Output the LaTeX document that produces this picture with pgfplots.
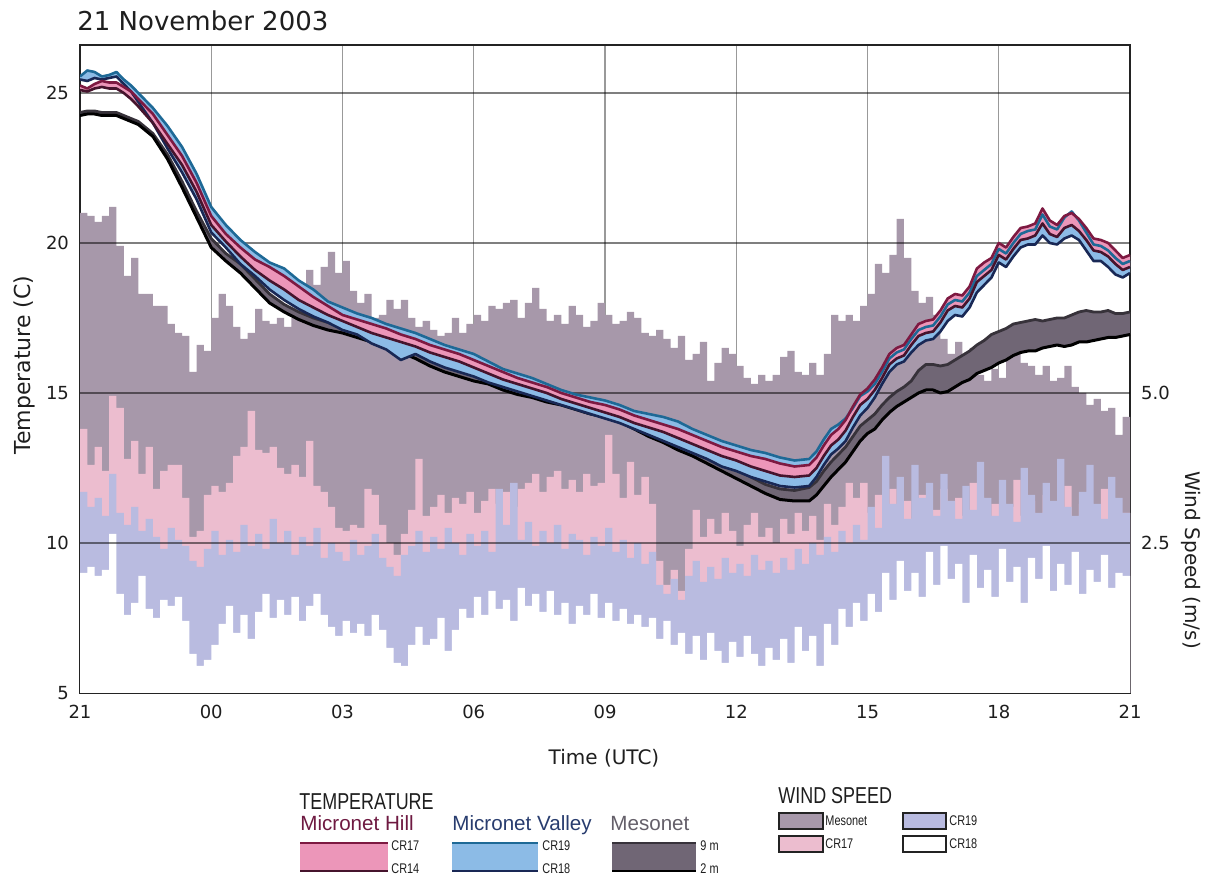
\documentclass[border=0pt]{standalone}
\usepackage{fontspec}
\setmainfont{DejaVu Sans}
\newfontfamily\legfont{Liberation Sans}
\newfontfamily\legcond[FakeStretch=0.78]{Liberation Sans}
\usepackage{pgfplots}
\pgfplotsset{compat=1.18}
\usepgfplotslibrary{fillbetween}
\usepackage{pgfplotstable}
% keep the temperature bands in drawing order, above the wind areas
\tikzset{fill between/on layer=main}

% wind bars
\definecolor{mesbar}{RGB}{167,152,170}
\definecolor{hillbar}{RGB}{236,189,207}
\definecolor{valbar}{RGB}{185,187,224}
% temperature bands
\definecolor{hillfill}{RGB}{236,150,185}
\definecolor{hillline}{RGB}{125,25,65}
\definecolor{hillline2}{RGB}{70,20,45}
\definecolor{valfill}{RGB}{140,187,230}
\definecolor{valline}{RGB}{30,105,150}
\definecolor{valline2}{RGB}{25,40,85}
\definecolor{mesfill}{RGB}{112,102,117}
\definecolor{mesline}{RGB}{55,50,58}
% text
\definecolor{textc}{RGB}{30,30,30}
\definecolor{framec}{RGB}{35,35,35}
\definecolor{hilltext}{RGB}{110,25,65}
\definecolor{valtext}{RGB}{40,60,110}
\definecolor{mestext}{RGB}{100,95,105}

% wind speed (m/s), 10-minute values; t in minutes after 21 UTC
\pgfplotstableread{
t mes c17 c19 c18
0 8.00 4.40 3.35 2.00
10 7.95 3.80 3.10 2.10
20 7.85 4.10 3.25 1.95
30 7.95 3.70 2.95 2.05
40 8.10 4.95 3.65 2.65
50 7.45 4.75 3.00 1.65
60 6.95 3.90 2.80 1.30
70 7.25 4.20 3.10 1.50
80 6.65 3.65 2.70 1.95
90 6.65 4.10 2.90 1.40
100 6.45 3.40 2.60 1.25
110 6.45 3.70 2.40 1.55
120 6.15 3.80 2.75 1.45
130 6.00 3.80 2.55 1.60
140 5.95 3.25 2.45 1.20
150 5.35 2.60 2.20 0.65
160 5.80 2.70 2.10 0.45
170 5.70 3.30 2.40 0.55
180 6.25 3.45 2.70 0.80
190 6.65 3.35 2.30 1.15
200 6.45 3.50 2.55 1.45
210 6.10 3.95 2.35 1.00
220 5.90 4.10 2.80 1.30
230 6.00 4.70 2.45 0.90
240 6.40 4.05 2.65 1.35
250 6.20 4.00 2.40 1.65
260 6.15 4.10 2.90 1.25
270 6.25 3.75 2.50 1.55
280 6.10 3.65 2.70 1.30
290 6.25 3.80 2.30 1.60
300 6.50 3.60 2.60 1.20
310 7.05 4.20 2.45 1.45
320 6.80 3.45 2.75 1.65
330 7.10 3.35 2.25 1.30
340 7.35 3.10 2.50 1.10
350 7.00 2.75 2.35 0.95
360 7.20 2.70 2.20 1.20
370 6.70 2.80 2.55 1.00
380 6.50 2.75 2.30 1.15
390 6.65 3.40 2.45 0.95
400 6.25 3.30 2.65 1.30
410 6.30 2.80 2.25 1.05
420 6.55 2.50 2.10 0.75
430 6.40 2.30 1.95 0.50
440 6.55 2.65 2.30 0.45
450 6.25 3.05 2.45 0.80
460 6.10 3.90 2.70 1.10
470 6.20 2.95 2.35 0.80
480 6.05 3.10 2.60 0.90
490 5.95 3.30 2.40 1.25
500 6.00 3.00 2.75 0.70
510 6.25 3.25 2.50 1.05
520 6.00 3.15 2.30 1.40
530 6.15 3.35 2.65 1.25
540 6.30 3.00 2.45 1.60
550 6.20 3.20 2.70 1.30
560 6.45 3.40 2.35 1.70
570 6.40 3.15 3.40 1.40
580 6.50 3.35 2.80 1.55
590 6.55 3.10 3.50 1.20
600 6.25 3.40 2.55 1.75
610 6.50 3.50 2.85 1.45
620 6.75 3.65 2.45 1.65
630 6.40 3.35 2.70 1.35
640 6.20 3.60 2.50 1.70
650 6.30 3.70 2.80 1.30
660 6.15 3.40 2.40 1.50
670 6.45 3.55 2.65 1.15
680 6.30 3.35 2.55 1.45
690 6.10 3.65 2.30 1.30
700 6.20 3.45 2.60 1.65
710 6.50 3.50 2.45 1.25
720 6.30 4.30 2.75 1.50
730 6.15 3.65 2.35 1.20
740 6.20 3.25 2.55 1.40
750 6.35 3.85 2.25 1.15
760 6.25 3.30 2.50 1.30
770 6.00 3.60 2.15 1.10
780 5.95 3.15 2.35 1.25
790 6.05 2.20 1.80 0.90
800 5.90 1.80 1.65 1.20
810 5.75 2.05 1.90 0.80
820 5.95 1.70 1.55 1.00
830 5.55 2.40 1.95 0.65
840 5.65 3.05 2.20 0.95
850 5.85 2.60 1.85 0.55
860 5.20 2.90 2.10 1.00
870 5.50 2.65 1.90 0.70
880 5.75 3.00 2.25 0.50
890 5.65 2.70 2.00 0.85
900 5.45 2.45 2.15 0.60
910 5.25 2.80 1.95 0.95
920 5.15 3.00 2.30 0.65
930 5.30 2.60 2.05 0.45
940 5.20 2.75 2.20 0.75
950 5.30 2.50 2.00 0.55
960 5.60 2.90 2.25 0.90
970 5.70 2.65 2.05 0.50
980 5.35 3.00 2.40 1.10
990 5.30 2.70 2.15 0.70
1000 5.50 2.95 2.50 0.95
1010 5.30 2.55 2.30 0.45
1020 5.65 3.15 2.60 1.15
1030 6.30 2.80 2.35 0.80
1040 6.20 3.10 2.70 1.40
1050 6.30 3.50 2.50 1.10
1060 6.20 3.25 2.80 1.50
1070 6.45 3.50 2.55 1.20
1080 6.65 3.00 3.10 1.65
1090 7.15 3.30 2.75 1.35
1100 7.00 3.10 3.95 2.00
1110 7.30 3.40 3.15 1.55
1120 7.90 3.00 3.60 2.20
1130 7.25 3.20 2.90 1.70
1140 6.70 2.90 3.80 2.00
1150 6.50 3.30 3.25 1.60
1160 6.60 2.75 3.50 2.35
1170 6.30 3.05 2.95 1.80
1180 5.90 3.40 3.65 2.45
1190 5.65 2.85 3.20 1.90
1200 5.85 3.25 2.90 2.15
1210 5.65 2.95 3.45 1.50
1220 5.75 3.50 3.05 2.30
1230 5.30 3.00 3.85 1.75
1240 5.20 2.80 3.25 2.05
1250 5.40 3.15 2.95 1.60
1260 5.25 2.90 3.55 2.40
1270 5.70 3.10 3.15 1.85
1280 5.80 3.55 2.85 2.10
1290 5.50 2.95 3.75 1.50
1300 5.45 3.20 3.30 2.25
1310 5.30 2.85 3.00 1.90
1320 5.45 3.30 3.50 2.45
1330 5.20 3.00 3.20 1.70
1340 5.25 2.75 3.90 2.15
1350 5.45 3.45 3.10 1.80
1360 5.10 2.90 2.95 2.35
1370 5.00 3.15 3.35 1.65
1380 4.80 3.00 3.80 2.05
1390 4.90 2.80 3.15 1.85
1400 4.70 3.40 2.90 2.30
1410 4.75 3.10 3.60 1.75
1420 4.30 2.70 3.25 2.00
1430 4.60 3.00 3.00 1.95
1440 4.60 3.00 3.00 1.95
}\windtab

% temperature (C); t in minutes after 21 UTC
\pgfplotstableread{
t c17 c14 c19 c18 m9 m2
0 25.25 25.10 25.55 25.45 24.35 24.25
10 25.15 25.05 25.75 25.40 24.40 24.30
20 25.30 25.15 25.70 25.50 24.40 24.30
30 25.40 25.20 25.55 25.45 24.35 24.25
40 25.35 25.15 25.60 25.50 24.35 24.25
50 25.35 25.15 25.70 25.55 24.35 24.25
60 25.20 25.00 25.45 25.30 24.25 24.15
70 25.05 24.80 25.25 25.05 24.15 24.05
80 24.80 24.55 25.00 24.70 24.05 23.95
100 24.30 24.00 24.50 24.00 23.65 23.55
120 23.60 23.30 23.90 23.15 22.95 22.80
140 22.90 22.60 23.20 22.35 22.05 21.85
160 22.00 21.70 22.30 21.45 21.05 20.85
180 20.90 20.60 21.20 20.35 20.15 19.85
200 20.30 20.05 20.60 19.85 19.65 19.40
220 19.85 19.55 20.10 19.30 19.30 19.00
240 19.45 19.10 19.70 18.90 18.80 18.50
260 19.20 18.75 19.35 18.45 18.30 18.00
280 18.90 18.45 19.15 18.10 17.95 17.70
300 18.55 18.10 18.75 17.80 17.70 17.45
320 18.20 17.85 18.45 17.55 17.50 17.25
340 17.90 17.60 18.05 17.35 17.35 17.10
360 17.60 17.40 17.85 17.10 17.20 17.00
380 17.45 17.20 17.65 16.95 17.05 16.85
400 17.30 17.00 17.50 16.65 16.90 16.70
420 17.15 16.85 17.30 16.45 16.75 16.50
440 16.95 16.70 17.15 16.10 16.60 16.35
460 16.80 16.55 17.00 16.30 16.40 16.15
480 16.60 16.35 16.80 16.05 16.15 15.90
500 16.45 16.20 16.60 15.85 15.95 15.70
520 16.30 16.05 16.45 15.70 15.80 15.55
540 16.10 15.85 16.30 15.55 15.65 15.40
560 15.90 15.65 16.05 15.35 15.50 15.30
580 15.70 15.45 15.80 15.20 15.35 15.10
600 15.50 15.30 15.65 15.05 15.15 14.95
620 15.35 15.15 15.50 14.90 15.00 14.85
640 15.20 15.00 15.30 14.75 14.90 14.70
660 15.00 14.80 15.10 14.60 14.75 14.60
680 14.85 14.65 14.95 14.45 14.60 14.45
700 14.70 14.50 14.85 14.30 14.45 14.30
720 14.60 14.35 14.75 14.15 14.35 14.20
740 14.45 14.20 14.60 14.00 14.20 14.05
760 14.25 14.00 14.40 13.80 14.00 13.80
780 14.10 13.85 14.30 13.60 13.80 13.55
800 13.95 13.70 14.20 13.40 13.55 13.35
820 13.80 13.50 14.05 13.20 13.35 13.10
840 13.60 13.30 13.80 13.00 13.15 12.90
860 13.40 13.10 13.60 12.80 12.90 12.65
880 13.20 12.90 13.40 12.55 12.70 12.40
900 13.05 12.75 13.25 12.40 12.45 12.15
920 12.90 12.55 13.10 12.20 12.20 11.90
940 12.80 12.40 13.00 12.05 11.95 11.65
960 12.65 12.25 12.85 11.90 11.80 11.45
980 12.55 12.20 12.75 11.85 11.75 11.40
1000 12.60 12.25 12.80 11.90 11.85 11.40
1010 12.85 12.50 13.05 12.20 12.05 11.60
1020 13.25 12.90 13.45 12.60 12.40 11.90
1030 13.60 13.25 13.80 12.95 12.70 12.20
1040 13.80 13.45 13.95 13.15 12.95 12.45
1050 14.10 13.75 14.15 13.40 13.20 12.70
1060 14.55 14.20 14.50 13.85 13.55 13.05
1070 14.95 14.60 14.90 14.25 13.90 13.40
1080 15.15 14.80 15.05 14.50 14.10 13.65
1090 15.45 15.10 15.30 14.85 14.30 13.80
1100 15.85 15.50 15.70 15.30 14.60 14.10
1110 16.30 15.95 16.15 15.70 14.85 14.35
1120 16.50 16.15 16.35 15.95 15.05 14.55
1130 16.60 16.25 16.45 16.05 15.20 14.70
1140 16.95 16.60 16.80 16.35 15.40 14.85
1150 17.30 16.90 17.10 16.60 15.75 15.00
1160 17.40 17.00 17.20 16.75 15.95 15.10
1170 17.45 17.05 17.25 16.80 15.95 15.10
1180 17.75 17.35 17.55 17.05 15.90 15.00
1190 18.15 17.75 17.95 17.40 15.95 15.05
1200 18.30 17.90 18.10 17.60 16.10 15.20
1210 18.25 17.85 18.05 17.55 16.25 15.35
1220 18.55 18.15 18.35 17.85 16.40 15.45
1230 19.15 18.70 18.90 18.35 16.60 15.65
1240 19.35 18.90 19.10 18.60 16.75 15.75
1250 19.50 19.10 19.30 18.85 16.95 15.85
1260 20.00 19.60 19.80 19.35 17.05 16.00
1270 19.85 19.45 19.65 19.20 17.15 16.10
1280 20.20 19.80 20.00 19.55 17.30 16.25
1290 20.50 20.10 20.30 19.85 17.35 16.35
1300 20.55 20.15 20.40 19.95 17.40 16.40
1310 20.65 20.25 20.45 19.95 17.45 16.40
1320 21.15 20.65 20.95 20.25 17.40 16.50
1330 20.75 20.30 20.55 20.00 17.45 16.55
1340 20.60 20.20 20.45 19.95 17.50 16.60
1350 20.90 20.50 20.85 20.15 17.50 16.55
1360 21.00 20.60 21.05 20.25 17.60 16.60
1370 20.80 20.40 20.75 20.10 17.70 16.70
1380 20.50 20.10 20.35 19.75 17.75 16.70
1390 20.15 19.75 19.95 19.40 17.70 16.75
1400 20.10 19.70 19.90 19.40 17.70 16.80
1410 20.00 19.55 19.75 19.20 17.75 16.85
1420 19.75 19.30 19.50 18.95 17.65 16.85
1430 19.50 19.10 19.30 18.85 17.65 16.90
1440 19.60 19.20 19.40 19.00 17.70 16.95
}\temptab

\begin{document}
\begin{tikzpicture}
\begin{axis}[name=ax, scale only axis, width=525pt, height=324pt,
  xmin=0, xmax=1440, ymin=5, ymax=26.6,
  xtick={0,180,...,1440}, xticklabels={21,00,03,06,09,12,15,18,21},
  ytick={5,10,15,20,25}, yticklabels={5,10,15,20,25},
  major tick length=0pt, no markers,
  xmajorgrids, grid style={black, opacity=0.4, line width=0.6pt},
  axis line style={line width=0.9pt, color=framec},
  tick label style={font=\fontsize{9}{10}\selectfont, text=textc},
  xticklabel style={yshift=-2.5pt},
  yticklabel style={xshift=-2pt},
]
% wind speed, drawn as stepped areas on the temperature scale (T = 5 + 2 w)
\addplot[const plot, fill=mesbar, draw=none] table[x=t, y expr={5+2*\thisrow{mes}}] {\windtab} \closedcycle;
\addplot[const plot, fill=hillbar, draw=none] table[x=t, y expr={5+2*\thisrow{c17}}] {\windtab} \closedcycle;
\addplot[const plot, fill=valbar, draw=none] table[x=t, y expr={5+2*\thisrow{c19}}] {\windtab} \closedcycle;
\addplot[const plot, fill=white, draw=none] table[x=t, y expr={5+2*\thisrow{c18}}] {\windtab} \closedcycle;
% horizontal rules over the wind areas
\addplot[black, opacity=0.5, line width=0.6pt] coordinates {(0,10) (1440,10)};
\addplot[black, opacity=0.5, line width=0.6pt] coordinates {(0,15) (1440,15)};
\addplot[black, opacity=0.5, line width=0.6pt] coordinates {(0,20) (1440,20)};
\addplot[black, opacity=0.5, line width=0.6pt] coordinates {(0,25) (1440,25)};
% Mesonet 9 m / 2 m
\addplot[draw=none, name path=m9] table[x=t, y=m9] {\temptab};
\addplot[draw=none, name path=m2] table[x=t, y=m2] {\temptab};
\addplot[mesfill] fill between[of=m9 and m2];
\addplot[mesline, line width=1.4pt, line join=round] table[x=t, y=m9] {\temptab};
\addplot[black, line width=1.5pt, line join=round] table[x=t, y=m2] {\temptab};
% Micronet valley CR19 / CR18
\addplot[draw=none, name path=c19] table[x=t, y=c19] {\temptab};
\addplot[draw=none, name path=c18] table[x=t, y=c18] {\temptab};
\addplot[valfill] fill between[of=c19 and c18];
% Micronet hill CR17 / CR14
\addplot[draw=none, name path=c17] table[x=t, y=c17] {\temptab};
\addplot[draw=none, name path=c14] table[x=t, y=c14] {\temptab};
\addplot[hillfill] fill between[of=c17 and c14];
\addplot[valline2, line width=1.3pt, line join=round] table[x=t, y=c18] {\temptab};
\addplot[valline, line width=1.3pt, line join=round] table[x=t, y=c19] {\temptab};
\addplot[hillline2, line width=1.3pt, line join=round] table[x=t, y=c14] {\temptab};
\addplot[hillline, line width=1.3pt, line join=round] table[x=t, y=c17] {\temptab};
\end{axis}
% wind speed scale on the right
\begin{axis}[scale only axis, width=525pt, height=324pt,
  xmin=0, xmax=1440, ymin=0, ymax=10.8,
  hide x axis, axis y line*=right, axis line style={draw=none},
  ytick={2.5,5}, yticklabels={2.5,5.0}, major tick length=0pt,
  tick label style={font=\fontsize{9}{10}\selectfont, text=textc},
  yticklabel style={xshift=2pt},
]
\end{axis}
\begin{scope}[shift={(ax.south west)}, shift={(-40pt,346.5pt)}, x=0.5pt, y=-0.5pt]
\node[anchor=base west, inner sep=0, font=\fontsize{13}{15}\selectfont, text=textc] at (77,31) {21 November 2003};
\node[rotate=90, font=\fontsize{11}{13}\selectfont, text=textc] at (24,365) {Temperature (C)};
\node[rotate=-90, font=\fontsize{10}{12}\selectfont, text=textc] at (1191,560) {Wind Speed (m/s)};
\node[font=\fontsize{10}{12}\selectfont, text=textc] at (604,758) {Time (UTC)};
% legend: temperature
\node[anchor=base west, inner sep=0, font=\legcond\fontsize{11.5}{13}\selectfont, text=textc] at (299,810) {TEMPERATURE};
\node[anchor=base west, inner sep=0, font=\legfont\fontsize{10.3}{12}\selectfont, text=hilltext] at (300,831) {Micronet Hill};
\node[anchor=base west, inner sep=0, font=\legfont\fontsize{10.3}{12}\selectfont, text=valtext] at (452,831) {Micronet Valley};
\node[anchor=base west, inner sep=0, font=\legfont\fontsize{10.3}{12}\selectfont, text=mestext] at (610,831) {Mesonet};
\fill[hillfill] (300,843) rectangle (388,871);
\draw[hillline, line width=1.2pt] (300,843) -- (388,843);
\draw[hillline2, line width=1.2pt] (300,871) -- (388,871);
\fill[valfill] (452,843) rectangle (538,871);
\draw[valline, line width=1.2pt] (452,843) -- (538,843);
\draw[valline2, line width=1.2pt] (452,871) -- (538,871);
\fill[mesfill] (612,843) rectangle (696,871);
\draw[mesline, line width=1.2pt] (612,843) -- (696,843);
\draw[black, line width=1.2pt] (612,871) -- (696,871);
\begin{scope}[every node/.style={anchor=west, inner sep=0, font=\legcond\fontsize{7}{8}\selectfont, text=textc}]
\node at (391,846) {CR17};
\node at (391,869) {CR14};
\node at (542,846) {CR19};
\node at (542,869) {CR18};
\node at (700,846) {9 m};
\node at (700,869) {2 m};
\end{scope}
% legend: wind speed
\node[anchor=base west, inner sep=0, font=\legcond\fontsize{11.5}{13}\selectfont, text=textc] at (778,804) {WIND SPEED};
\draw[fill=mesbar, draw=framec, line width=1pt] (779,813) rectangle (823,829);
\draw[fill=hillbar, draw=framec, line width=1pt] (779,836) rectangle (823,852);
\draw[fill=valbar, draw=framec, line width=1pt] (903,813) rectangle (946,829);
\draw[fill=white, draw=framec, line width=1pt] (903,836) rectangle (946,852);
\begin{scope}[every node/.style={anchor=west, inner sep=0, font=\legcond\fontsize{7}{8}\selectfont, text=textc}]
\node at (825,821) {Mesonet};
\node at (825,844) {CR17};
\node at (949,821) {CR19};
\node at (949,844) {CR18};
\end{scope}
\pgfresetboundingbox
\path (0,0) rectangle (1211,876);
\end{scope}
\end{tikzpicture}
\end{document}
